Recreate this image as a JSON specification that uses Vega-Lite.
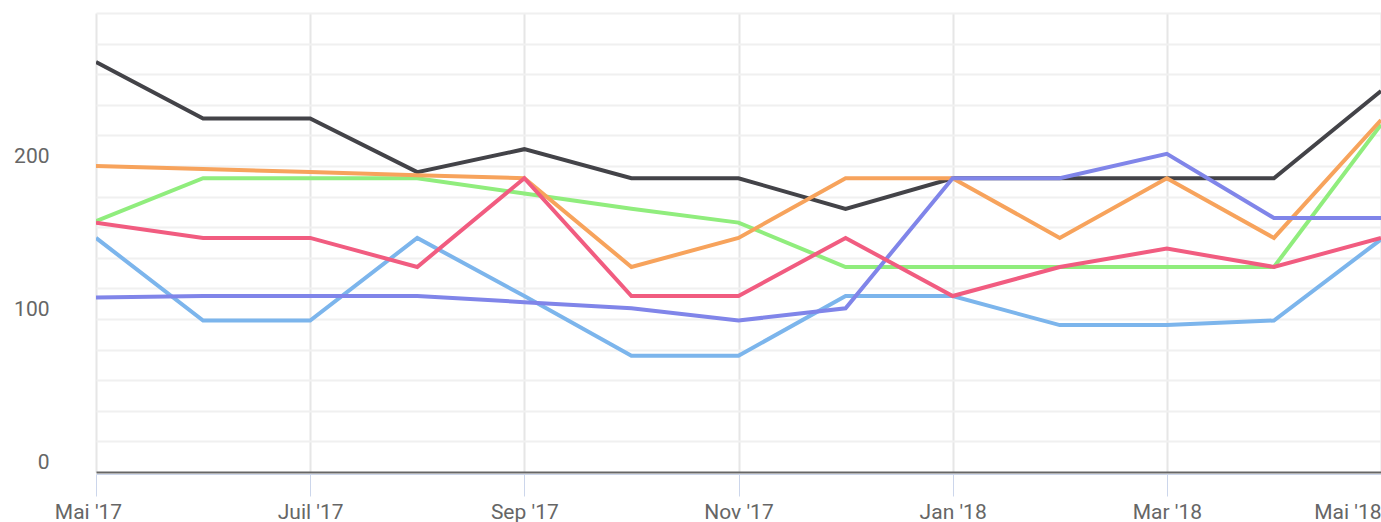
{
  "$schema": "https://vega.github.io/schema/vega-lite/v6.json",
  "width": 1285,
  "height": 459,
  "autosize": "none",
  "padding": {"left": 96, "top": 13, "right": 0, "bottom": 50},
  "background": "#ffffff",
  "config": {"view": {"stroke": null}, "font": "Roboto"},
  "data": {"values": [
    {"m":"Mai '17","s":"a","v":153},{"m":"Juin '17","s":"a","v":99},{"m":"Juil '17","s":"a","v":99},{"m":"Août '17","s":"a","v":153},{"m":"Sep '17","s":"a","v":115},{"m":"Oct '17","s":"a","v":76},{"m":"Nov '17","s":"a","v":76},{"m":"Déc '17","s":"a","v":115},{"m":"Jan '18","s":"a","v":115},{"m":"Fév '18","s":"a","v":96},{"m":"Mar '18","s":"a","v":96},{"m":"Avr '18","s":"a","v":99},{"m":"Mai '18","s":"a","v":152},
    {"m":"Mai '17","s":"b","v":268},{"m":"Juin '17","s":"b","v":231},{"m":"Juil '17","s":"b","v":231},{"m":"Août '17","s":"b","v":196},{"m":"Sep '17","s":"b","v":211},{"m":"Oct '17","s":"b","v":192},{"m":"Nov '17","s":"b","v":192},{"m":"Déc '17","s":"b","v":172},{"m":"Jan '18","s":"b","v":192},{"m":"Fév '18","s":"b","v":192},{"m":"Mar '18","s":"b","v":192},{"m":"Avr '18","s":"b","v":192},{"m":"Mai '18","s":"b","v":249},
    {"m":"Mai '17","s":"c","v":164},{"m":"Juin '17","s":"c","v":192},{"m":"Juil '17","s":"c","v":192},{"m":"Août '17","s":"c","v":192},{"m":"Sep '17","s":"c","v":182},{"m":"Oct '17","s":"c","v":172},{"m":"Nov '17","s":"c","v":163},{"m":"Déc '17","s":"c","v":134},{"m":"Jan '18","s":"c","v":134},{"m":"Fév '18","s":"c","v":134},{"m":"Mar '18","s":"c","v":134},{"m":"Avr '18","s":"c","v":134},{"m":"Mai '18","s":"c","v":227},
    {"m":"Mai '17","s":"d","v":200},{"m":"Juin '17","s":"d","v":198},{"m":"Juil '17","s":"d","v":196},{"m":"Août '17","s":"d","v":194},{"m":"Sep '17","s":"d","v":192},{"m":"Oct '17","s":"d","v":134},{"m":"Nov '17","s":"d","v":153},{"m":"Déc '17","s":"d","v":192},{"m":"Jan '18","s":"d","v":192},{"m":"Fév '18","s":"d","v":153},{"m":"Mar '18","s":"d","v":192},{"m":"Avr '18","s":"d","v":153},{"m":"Mai '18","s":"d","v":230},
    {"m":"Mai '17","s":"e","v":114},{"m":"Juin '17","s":"e","v":115},{"m":"Juil '17","s":"e","v":115},{"m":"Août '17","s":"e","v":115},{"m":"Sep '17","s":"e","v":111},{"m":"Oct '17","s":"e","v":107},{"m":"Nov '17","s":"e","v":99},{"m":"Déc '17","s":"e","v":107},{"m":"Jan '18","s":"e","v":192},{"m":"Fév '18","s":"e","v":192},{"m":"Mar '18","s":"e","v":208},{"m":"Avr '18","s":"e","v":166},{"m":"Mai '18","s":"e","v":166},
    {"m":"Mai '17","s":"f","v":163},{"m":"Juin '17","s":"f","v":153},{"m":"Juil '17","s":"f","v":153},{"m":"Août '17","s":"f","v":134},{"m":"Sep '17","s":"f","v":192},{"m":"Oct '17","s":"f","v":115},{"m":"Nov '17","s":"f","v":115},{"m":"Déc '17","s":"f","v":153},{"m":"Jan '18","s":"f","v":115},{"m":"Fév '18","s":"f","v":134},{"m":"Mar '18","s":"f","v":146},{"m":"Avr '18","s":"f","v":134},{"m":"Mai '18","s":"f","v":153}
  ]},
  "mark": {"type": "line", "strokeWidth": 4, "strokeJoin": "miter", "strokeCap": "butt", "clip": true},
  "encoding": {
    "x": {
      "field": "m", "type": "ordinal",
      "sort": ["Mai '17","Juin '17","Juil '17","Août '17","Sep '17","Oct '17","Nov '17","Déc '17","Jan '18","Fév '18","Mar '18","Avr '18","Mai '18"],
      "scale": {"type": "point", "padding": 0},
      "axis": {
        "title": null,
        "values": ["Mai '17","Juil '17","Sep '17","Nov '17","Jan '18","Mar '18","Mai '18"],
        "labelAngle": 0,
        "offset": 2,
        "grid": true, "gridColor": "#e6e6e6", "gridWidth": 2,
        "domainColor": "#ccd6eb", "domainWidth": 1,
        "tickColor": "#ccd6eb", "tickWidth": 1, "tickSize": 22,
        "labelFont": "Roboto", "labelFontSize": 21, "labelColor": "#666666",
        "labelPadding": 5,
        "labelOffset": {"condition": {"test": "datum.index == 0", "value": -8}, "value": 0},
        "labelAlign": {"expr": "datum.index == 1 ? 'right' : 'center'"}
      }
    },
    "y": {
      "field": "v", "type": "quantitative",
      "scale": {"domain": [0, 300], "nice": false, "zero": true},
      "axis": {
        "title": null,
        "values": [0,20,40,60,80,100,120,140,160,180,200,220,240,260,280,300],
        "labelExpr": "(datum.value % 100 == 0 && datum.value < 300) ? datum.label : ''",
        "domain": false, "ticks": false,
        "grid": true,
        "gridColor": {"condition": {"test": "datum.value === 0", "value": "#666666"}, "value": "#f0f0f0"},
        "gridWidth": 2,
        "labelFont": "Roboto", "labelFontSize": 21, "labelColor": "#666666",
        "labelPadding": 47, "labelBaseline": "alphabetic", "labelOffset": -4
      }
    },
    "color": {
      "field": "s", "type": "nominal", "legend": null,
      "scale": {"domain": ["a","b","c","d","e","f"], "range": ["#7cb5ec","#434348","#90ed7d","#f7a35c","#8085e9","#f15c80"]}
    }
  }
}
